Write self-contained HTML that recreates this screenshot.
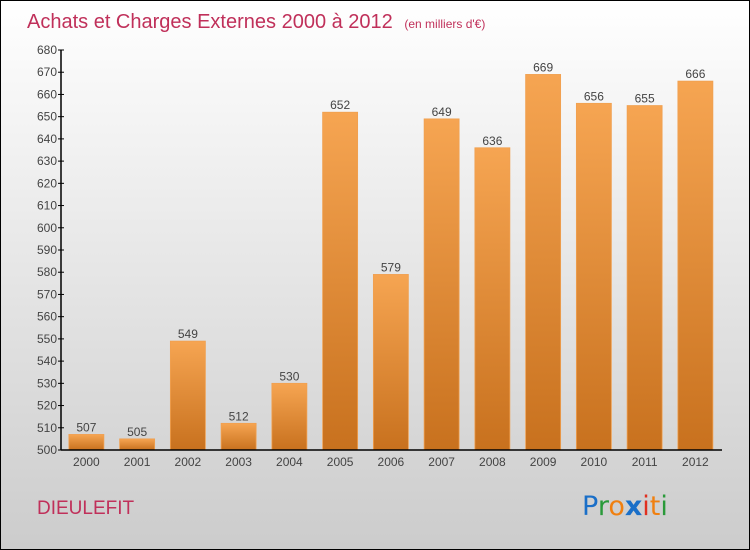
<!DOCTYPE html>
<html><head><meta charset="utf-8"><style>
body{margin:0;width:750px;height:550px;overflow:hidden;font-family:"Liberation Sans",sans-serif}
svg{display:block}
</style></head><body>
<svg width="750" height="550">
<defs>
<linearGradient id="bg" x1="0" y1="0" x2="0" y2="1"><stop offset="0" stop-color="#ffffff"/><stop offset="1" stop-color="#cccccc"/></linearGradient>
<linearGradient id="bar" x1="0" y1="0" x2="0" y2="1"><stop offset="0" stop-color="#f6a552"/><stop offset="1" stop-color="#c8711e"/></linearGradient>
</defs>
<rect x="0.5" y="0.5" width="749" height="549" fill="url(#bg)" stroke="#000"/>
<text x="27" y="28" font-size="20" fill="#c0305a">Achats et Charges Externes 2000 à 2012 <tspan font-size="12" dx="6">(en milliers d'€)</tspan></text>
<g id="yaxis"></g>
<g id="bars"></g>
<g id="xaxis"></g>
<text x="37" y="514" font-size="19" fill="#c0305a">DIEULEFIT</text>
<g font-size="27" font-family="'DejaVu Sans',sans-serif">
<text x="582" y="515" fill="#1a6fc8">P<tspan fill="#2a9a3a">r</tspan><tspan fill="#f08010">o</tspan><tspan fill="#1a6fc8" font-weight="bold">x</tspan><tspan fill="#e03020">i</tspan><tspan fill="#f08010">t</tspan><tspan fill="#2a9a3a">i</tspan></text>
</g>
</svg>
<script>
const years=["2000","2001","2002","2003","2004","2005","2006","2007","2008","2009","2010","2011","2012"];
const values=[507,505,549,512,530,652,579,649,636,669,656,655,666];
const yTicks=[500,510,520,530,540,550,560,570,580,590,600,610,620,630,640,650,660,670,680];
const NS="http://www.w3.org/2000/svg";
const x0=61,step=50.75,barW=35,yMin=500,yMax=680,yBot=450,yTop=50;
const y=v=>yBot-(v-yMin)/(yMax-yMin)*(yBot-yTop);
const xc=i=>x0+step*(i+0.5);
function mk(t,a,p){const e=document.createElementNS(NS,t);for(const k in a)e.setAttribute(k,a[k]);p.appendChild(e);return e;}
const ya=document.getElementById('yaxis'),ba=document.getElementById('bars'),xa=document.getElementById('xaxis');
let l=mk('line',{x1:x0,y1:yTop,x2:x0,y2:yBot,stroke:'#000','stroke-width':1.5},ya);


yTicks.forEach(v=>{
 const t=mk('line',{x1:x0-3,y1:y(v),x2:x0+3,y2:y(v),stroke:'#000'},ya);
 
 
 const tx=mk('text',{x:x0-4,y:y(v)+4,'font-size':12,fill:'#444','text-anchor':'end'},ya);
 tx.textContent=v;
 
 
});
let xl=mk('line',{x1:x0,y1:yBot,x2:722,y2:yBot,stroke:'#000','stroke-width':1.5},xa);


values.forEach((v,i)=>{
 const r=mk('rect',{x:xc(i)-barW/2,y:y(v),width:barW,height:yBot-y(v),fill:'url(#bar)',stroke:'#f0a050','stroke-width':0.8},ba);
 
 
 const t=mk('text',{x:xc(i),y:y(v)-3,'font-size':12,fill:'#444','text-anchor':'middle'},ba);
 t.textContent=v;
 
 
 const xt=mk('text',{x:xc(i),y:466,'font-size':12,fill:'#444','text-anchor':'middle'},xa);
 xt.textContent=years[i];
 
 
});
</script>
</body></html>
